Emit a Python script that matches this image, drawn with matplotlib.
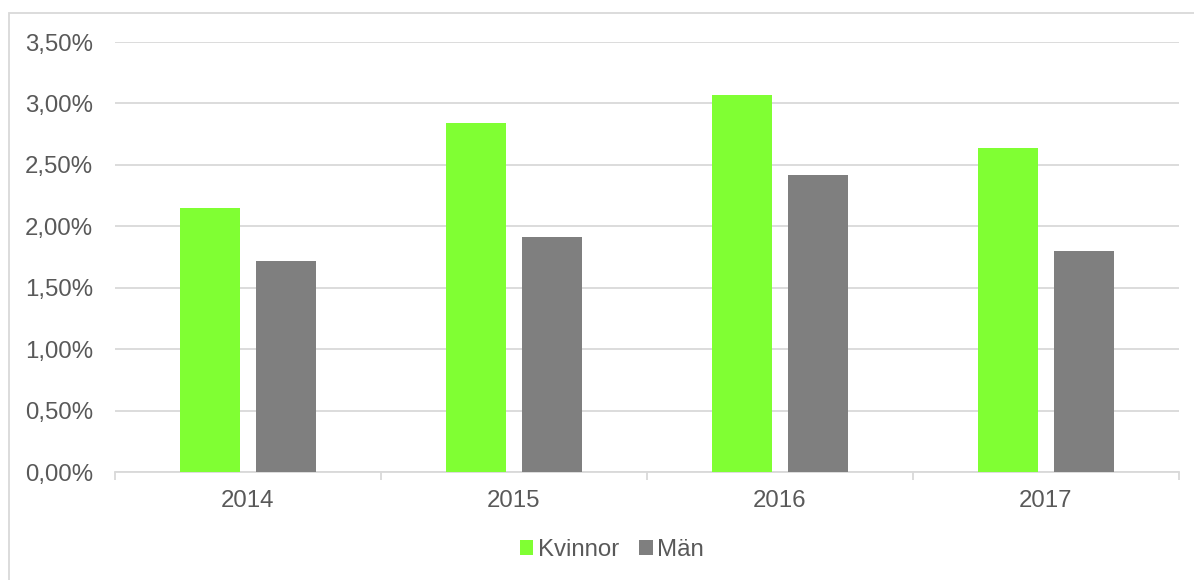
import numpy as np
import matplotlib
matplotlib.use("Agg")
import matplotlib.pyplot as plt
from matplotlib.patches import Rectangle

years = ["2014", "2015", "2016", "2017"]
kvinnor = [2.15, 2.84, 3.07, 2.64]
man = [1.72, 1.91, 2.42, 1.80]
yticks = [0.0, 0.5, 1.0, 1.5, 2.0, 2.5, 3.0, 3.5]

plt.rcParams["font.family"] = ["Liberation Sans", "DejaVu Sans"]
text_col = "#595959"
grid_col = "#d9d9d9"
fs = 17.3

fig = plt.figure(figsize=(11.94, 5.80), dpi=100)
W, H = 1194, 580
ax = fig.add_axes([115 / W, 1 - 472 / H, (1179 - 115) / W, (472 - 42) / H])

x = np.arange(len(years))
bw = 0.2256
off = 0.143
ax.bar(x - off, kvinnor, bw, color="#80ff33", label="Kvinnor", zorder=3)
ax.bar(x + off, man, bw, color="#7f7f7f", label="Män", zorder=3)

ax.set_xlim(-0.5, len(years) - 0.5)
ax.set_ylim(0, 3.5)
ax.set_yticks(yticks)
ax.set_yticklabels([f"{v:.2f}%".replace(".", ",") for v in yticks])
ax.yaxis.grid(True, color=grid_col, lw=1.3, zorder=0)
ax.tick_params(axis="y", length=0, pad=16, labelsize=fs, labelcolor=text_col)

ax.set_xticks(x)
ax.set_xticklabels(years)
ax.set_xticks(np.arange(len(years) + 1) - 0.5, minor=True)
ax.tick_params(axis="x", which="major", length=0, pad=13, labelsize=fs, labelcolor=text_col)
ax.tick_params(axis="x", which="minor", length=6, color=grid_col, width=1.3)

for s in ["top", "right", "left"]:
    ax.spines[s].set_visible(False)
ax.spines["bottom"].set_color(grid_col)
ax.spines["bottom"].set_linewidth(1.3)

fig.legend(loc="center", bbox_to_anchor=(612 / W, 1 - 550 / H), ncol=2, frameon=False,
           fontsize=fs, labelcolor=text_col, handlelength=0.55, handleheight=0.55,
           handletextpad=0.2, columnspacing=0.85, borderpad=0.2)

fig.patches.append(Rectangle((9 / W, -0.01), 1.0, 1 - 13 / H + 0.01, transform=fig.transFigure,
                             fill=False, edgecolor=grid_col, lw=1.3))

fig.savefig("out.png", dpi=100)
